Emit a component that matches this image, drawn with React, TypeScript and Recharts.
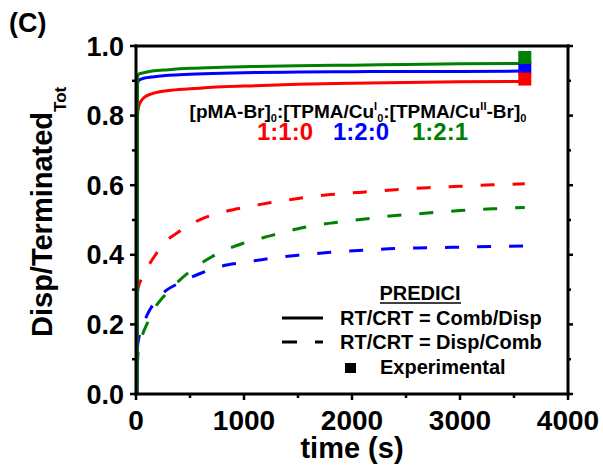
import React from 'react';
import { ComposedChart, Line, Scatter, XAxis, YAxis } from 'recharts';

// ---- data ----
const solidTime = [10, 14, 25, 40, 80, 150, 300, 500, 800, 1100, 1500, 2000, 2500, 3000, 3600];
const solidRed = [0, 0.8, 0.826, 0.838, 0.853, 0.863, 0.872, 0.877, 0.883, 0.886, 0.89, 0.893, 0.895, 0.897, 0.898];
const solidBlue = [0, 0.89, 0.901, 0.904, 0.908, 0.911, 0.916, 0.919, 0.922, 0.924, 0.925, 0.926, 0.927, 0.927, 0.928];
const solidGreen = [0, 0.91, 0.919, 0.921, 0.924, 0.928, 0.932, 0.936, 0.939, 0.941, 0.943, 0.945, 0.947, 0.949, 0.95];

const dashTime = [12, 20, 60, 100, 180, 250, 400, 600, 800, 1000, 1250, 1500, 1800, 2100, 2400, 2700, 3000, 3300, 3600];
const dashRed = [0.29, 0.305, 0.335, 0.36, 0.4, 0.43, 0.467, 0.502, 0.522, 0.536, 0.55, 0.562, 0.573, 0.58, 0.587, 0.593, 0.597, 0.601, 0.604];
const dashBlue = [0.13, 0.15, 0.195, 0.225, 0.266, 0.29, 0.319, 0.347, 0.368, 0.378, 0.39, 0.399, 0.407, 0.413, 0.418, 0.42, 0.422, 0.424, 0.425];
const dashGreen = [0.08, 0.12, 0.17, 0.2, 0.25, 0.278, 0.326, 0.375, 0.41, 0.434, 0.455, 0.475, 0.491, 0.502, 0.513, 0.52, 0.527, 0.532, 0.536];

const expTime = [3600];
const expRed = [0.905];
const expBlue = [0.937];
const expGreen = [0.967];

const xTicks = [0, 500, 1000, 1500, 2000, 2500, 3000, 3500, 4000];
const yTicks = [0, 0.1, 0.2, 0.3, 0.4, 0.5, 0.6, 0.7, 0.8, 0.9, 1.0];

const RED = '#ff0000';
const BLUE = '#0000ff';
const GREEN = '#008000';
const FONT = '"Liberation Sans", Arial, Helvetica, sans-serif';

const toRows = (t: number[], v: number[]) => t.map((tt, i) => ({ t: tt, v: v[i] }));

const isMajorX = (v: number) => Math.round(v) % 1000 === 0;
const isMajorY = (v: number) => Math.round(v * 10) % 2 === 0;

const BottomTick = (p: any) => {
  const { x, y, payload } = p;
  const major = isMajorX(payload.value);
  return (
    <g>
      <line x1={x} x2={x} y1={y} y2={y + (major ? 6 : 4)} stroke="#000" strokeWidth={2.5} />
      {major && (
        <text x={x} y={y + 36} textAnchor="middle" fontFamily={FONT} fontWeight="bold" fontSize={28} fill="#000">
          {payload.value}
        </text>
      )}
    </g>
  );
};

const TopTick = (p: any) => {
  const { x, y, payload } = p;
  const major = isMajorX(payload.value);
  return <line x1={x} x2={x} y1={y} y2={y - (major ? 5 : 3)} stroke="#000" strokeWidth={2.5} />;
};

const LeftTick = (p: any) => {
  const { x, y, payload } = p;
  const major = isMajorY(payload.value);
  return (
    <g>
      <line x1={x} x2={x - (major ? 6 : 4)} y1={y} y2={y} stroke="#000" strokeWidth={2.5} />
      {major && (
        <text x={x - 12} y={y + 9.5} textAnchor="end" fontFamily={FONT} fontWeight="bold" fontSize={27} fill="#000">
          {Number(payload.value).toFixed(1)}
        </text>
      )}
    </g>
  );
};

const RightTick = (p: any) => {
  const { x, y, payload } = p;
  const major = isMajorY(payload.value);
  return <line x1={x} x2={x + (major ? 5 : 3)} y1={y} y2={y} stroke="#000" strokeWidth={2.5} />;
};

const Square = (color: string) => (p: any) => (
  <rect x={p.cx - 6.5} y={p.cy - 6.5} width={13} height={13} fill={color} />
);

const axisLineStyle = { stroke: '#000', strokeWidth: 3, strokeLinecap: 'square' as const };

export default function App() {
  return (
    <div style={{ position: 'absolute', left: 0, top: 0, width: 603, height: 467, background: '#fff' }}>
      <ComposedChart width={603} height={467} margin={{ top: 36, right: 25, bottom: 33, left: 76 }}>
        <XAxis
          xAxisId="b"
          dataKey="t"
          type="number"
          domain={[0, 4000]}
          ticks={xTicks}
          interval={0}
          tickSize={0}
          tickMargin={0}
          tickLine={false}
          axisLine={axisLineStyle}
          tick={<BottomTick />}
          height={40}
          allowDataOverflow
        />
        <XAxis
          xAxisId="top"
          orientation="top"
          type="number"
          domain={[0, 4000]}
          ticks={xTicks}
          interval={0}
          tickSize={0}
          tickMargin={0}
          tickLine={false}
          axisLine={axisLineStyle}
          tick={<TopTick />}
          height={10}
          allowDataOverflow
        />
        <YAxis
          yAxisId="l"
          type="number"
          domain={[0, 1]}
          ticks={yTicks}
          interval={0}
          tickSize={0}
          tickMargin={0}
          tickLine={false}
          axisLine={axisLineStyle}
          tick={<LeftTick />}
          width={60}
          allowDataOverflow
        />
        <YAxis
          yAxisId="r"
          orientation="right"
          type="number"
          domain={[0, 1]}
          ticks={yTicks}
          interval={0}
          tickSize={0}
          tickMargin={0}
          tickLine={false}
          axisLine={axisLineStyle}
          tick={<RightTick />}
          width={10}
          allowDataOverflow
        />
        <Line xAxisId="b" yAxisId="l" data={toRows(dashTime, dashBlue)} dataKey="v" type="monotone" stroke={BLUE} strokeWidth={3} strokeDasharray="14 18" dot={false} isAnimationActive={false} />
        <Line xAxisId="b" yAxisId="l" data={toRows(dashTime, dashGreen)} dataKey="v" type="monotone" stroke={GREEN} strokeWidth={3} strokeDasharray="14 18" dot={false} isAnimationActive={false} />
        <Line xAxisId="b" yAxisId="l" data={toRows(dashTime, dashRed)} dataKey="v" type="monotone" stroke={RED} strokeWidth={3} strokeDasharray="14 18" dot={false} isAnimationActive={false} />
        <Line xAxisId="b" yAxisId="l" data={toRows(solidTime, solidRed)} dataKey="v" type="monotone" stroke={RED} strokeWidth={3} dot={false} isAnimationActive={false} />
        <Line xAxisId="b" yAxisId="l" data={toRows(solidTime, solidBlue)} dataKey="v" type="monotone" stroke={BLUE} strokeWidth={3} dot={false} isAnimationActive={false} />
        <Line xAxisId="b" yAxisId="l" data={toRows(solidTime, solidGreen)} dataKey="v" type="monotone" stroke={GREEN} strokeWidth={3} dot={false} isAnimationActive={false} />
        <Scatter xAxisId="b" yAxisId="l" data={toRows(expTime, expBlue)} dataKey="v" shape={Square(BLUE)} isAnimationActive={false} />
        <Scatter xAxisId="b" yAxisId="l" data={toRows(expTime, expRed)} dataKey="v" shape={Square(RED)} isAnimationActive={false} />
        <Scatter xAxisId="b" yAxisId="l" data={toRows(expTime, expGreen)} dataKey="v" shape={Square(GREEN)} isAnimationActive={false} />
      </ComposedChart>
      <svg
        width={603}
        height={467}
        style={{ position: 'absolute', left: 0, top: 0, pointerEvents: 'none' }}
        fontFamily={FONT}
        fontWeight="bold"
      >
        <text x={9} y={32} fontSize={27} fill="#000">(C)</text>
        <text transform="translate(52,337) rotate(-90)" fontSize={29} fill="#000">
          Disp/Terminated
          <tspan fontSize={17} dy={14}>Tot</tspan>
        </text>
        <text x={352} y={458} textAnchor="middle" fontSize={29} fill="#000">time (s)</text>

        <text x={358} y={118} textAnchor="middle" fontSize={19} fill="#000">
          [pMA-Br]<tspan fontSize={11} dy={4}>0</tspan>
          <tspan dy={-4}>:[TPMA/Cu</tspan><tspan fontSize={11} dy={-8}>I</tspan>
          <tspan fontSize={11} dy={12}>0</tspan>
          <tspan dy={-4}>:[TPMA/Cu</tspan><tspan fontSize={11} dy={-8}>II</tspan>
          <tspan dy={8}>-Br]</tspan><tspan fontSize={11} dy={4}>0</tspan>
        </text>
        <text x={257} y={140} fontSize={24} fill={RED}>1:1:0</text>
        <text x={333} y={140} fontSize={24} fill={BLUE}>1:2:0</text>
        <text x={412} y={140} fontSize={24} fill={GREEN}>1:2:1</text>

        <text x={420} y={300} textAnchor="middle" fontSize={20} fill="#000">PREDICI</text>
        <line x1={380} x2={461} y1={303} y2={303} stroke="#000" strokeWidth={1.5} />
        <line x1={282} x2={323} y1={318} y2={318} stroke="#000" strokeWidth={3} />
        <text x={340} y={325} fontSize={20} fill="#000">RT/CRT = Comb/Disp</text>
        <line x1={282} x2={297} y1={342} y2={342} stroke="#000" strokeWidth={3} />
        <line x1={315} x2={323} y1={342} y2={342} stroke="#000" strokeWidth={3} />
        <text x={340} y={349} fontSize={20} fill="#000">RT/CRT = Disp/Comb</text>
        <rect x={345} y={363} width={11} height={10} fill="#000" />
        <text x={380} y={374} fontSize={20} fill="#000">Experimental</text>
      </svg>
    </div>
  );
}
